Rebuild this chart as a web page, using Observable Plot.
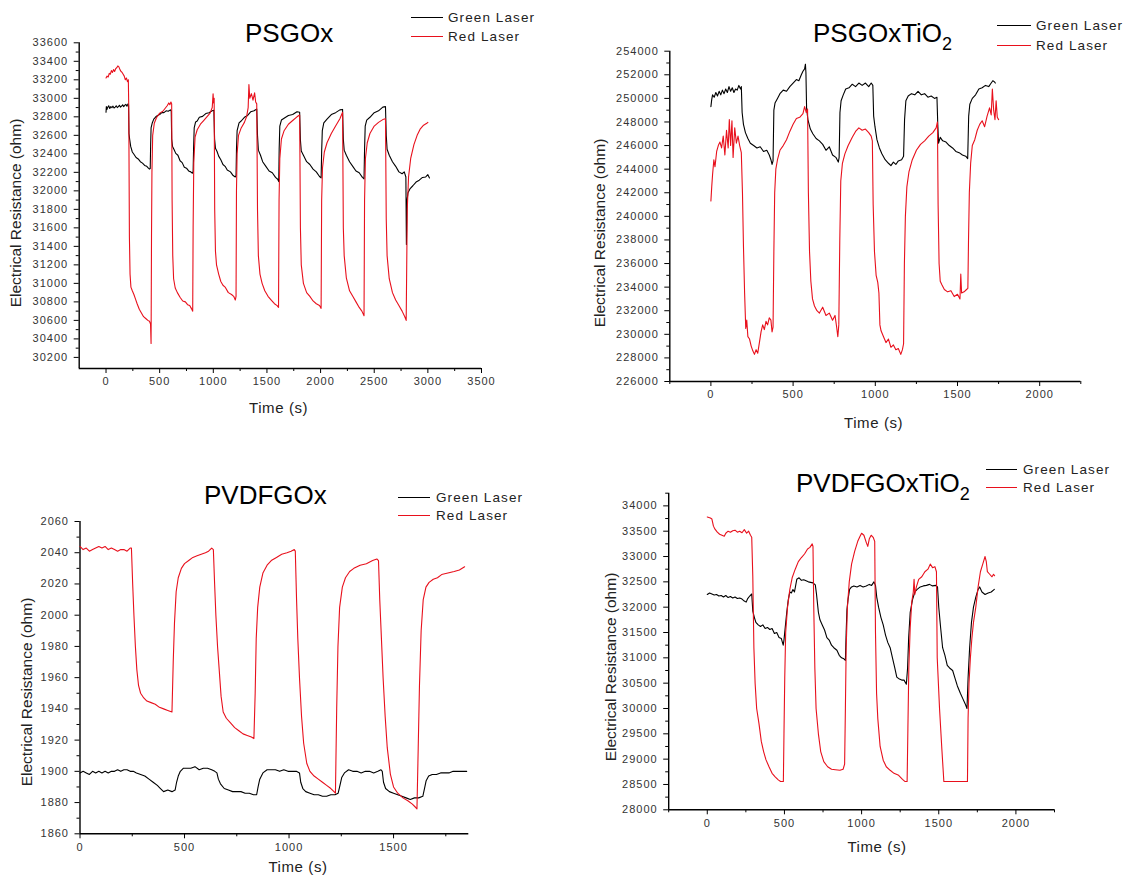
<!DOCTYPE html>
<html>
<head>
<meta charset="utf-8">
<script src="https://cdn.jsdelivr.net/npm/d3@7"></script>
<script src="https://cdn.jsdelivr.net/npm/@observablehq/plot@0.6"></script>
<style>
  html, body { margin: 0; padding: 0; background: #fff; }
  #root { position: relative; width: 1143px; height: 880px; background: #fff; overflow: hidden;
          font-family: Arial, "Liberation Sans", sans-serif; }
  .t { position: absolute; white-space: nowrap; line-height: 1; }
  .ln { position: absolute; height: 1px; }
  svg { position: absolute; }
</style>
</head>
<body>
<div id="root"></div>
<script>
// ---------- labels ----------
const panelTitles = ["PSGOx", "PSGOxTiO|2", "PVDFGOx", "PVDFGOxTiO|2"];
const seriesNames = ["Green Laser", "Red Laser"];
const yAxisLabel = "Electrical Resistance (ohm)";
const xAxisLabel = "Time (s)";

// ---------- tick values ----------
const p1XTicks = [0, 500, 1000, 1500, 2000, 2500, 3000, 3500];
const p1YTicks = [30200, 30400, 30600, 30800, 31000, 31200, 31400, 31600, 31800, 32000, 32200, 32400, 32600, 32800, 33000, 33200, 33400, 33600];
const p2XTicks = [0, 500, 1000, 1500, 2000];
const p2YTicks = [226000, 228000, 230000, 232000, 234000, 236000, 238000, 240000, 242000, 244000, 246000, 248000, 250000, 252000, 254000];
const p3XTicks = [0, 500, 1000, 1500];
const p3YTicks = [1860, 1880, 1900, 1920, 1940, 1960, 1980, 2000, 2020, 2040, 2060];
const p4XTicks = [0, 500, 1000, 1500, 2000];
const p4YTicks = [28000, 28500, 29000, 29500, 30000, 30500, 31000, 31500, 32000, 32500, 33000, 33500, 34000];

// ---------- data: [time (s), resistance (ohm)] ----------
const psgoxGreen = [[0,32850],[3,32910],[8,32880],[15,32900],[25,32920],[35,32890],[45,32910],[55,32900],[65,32915],[75,32895],[85,32905],[95,32920],[105,32900],[115,32910],[125,32925],[135,32905],[145,32915],[155,32930],[165,32910],[175,32925],[185,32935],[195,32915],[205,32940],[210,32930],
[214,32620],[220,32560],[230,32480],[245,32420],[260,32395],[280,32360],[300,32345],[320,32315],[340,32300],[360,32275],[380,32265],[395,32245],[405,32235],[412,32240],
[416,32500],[420,32680],[430,32730],[445,32775],[460,32795],[480,32815],[500,32825],[520,32845],[540,32845],[560,32865],[580,32860],[600,32875],[608,32860],
[612,32560],[620,32480],[635,32445],[650,32405],[670,32385],[690,32325],[710,32305],[730,32255],[750,32245],[770,32215],[790,32205],[805,32190],[812,32210],
[816,32450],[822,32680],[835,32745],[850,32755],[870,32795],[900,32805],[930,32835],[960,32845],[990,32865],[1005,32870],
[1012,32560],[1020,32460],[1035,32425],[1050,32375],[1070,32335],[1090,32285],[1110,32265],[1130,32225],[1160,32205],[1185,32165],[1205,32150],[1212,32165],
[1216,32450],[1222,32650],[1240,32735],[1260,32755],[1290,32795],[1320,32815],[1350,32855],[1380,32865],[1405,32885],
[1412,32600],[1420,32440],[1440,32385],[1460,32315],[1490,32265],[1520,32215],[1550,32195],[1580,32145],[1600,32125],[1610,32100],
[1614,32450],[1620,32700],[1635,32765],[1660,32785],[1700,32815],[1740,32825],[1780,32855],[1805,32850],
[1812,32550],[1820,32430],[1840,32385],[1870,32315],[1900,32285],[1930,32235],[1960,32205],[1990,32155],[2005,32140],
[2010,32420],[2016,32650],[2030,32735],[2060,32775],[2100,32825],[2140,32845],[2180,32875],[2205,32880],
[2212,32560],[2220,32440],[2240,32385],[2270,32315],[2300,32265],[2330,32215],[2360,32195],[2390,32145],[2405,32130],
[2410,32450],[2416,32700],[2430,32765],[2460,32795],[2500,32845],[2540,32865],[2580,32905],[2605,32910],
[2612,32600],[2620,32450],[2640,32385],[2670,32315],[2700,32265],[2730,32205],[2760,32185],[2780,32205],[2795,32150],
[2800,31420],[2806,31900],[2815,31980],[2835,32025],[2860,32055],[2890,32095],[2920,32115],[2950,32145],[2980,32150],[3000,32175],[3015,32140]];

const psgoxRed = [[0,33220],[10,33240],[20,33230],[30,33270],[40,33260],[50,33300],[60,33280],[70,33310],[80,33290],[90,33320],[100,33330],[110,33350],[120,33340],[130,33310],[140,33290],[150,33280],[160,33260],[170,33240],[180,33200],[190,33220],[200,33180],[208,33200],[212,32900],
[218,31500],[224,31100],[232,30960],[245,30920],[260,30880],[275,30830],[290,30780],[310,30720],[330,30680],[350,30640],[370,30620],[390,30600],[405,30590],[415,30560],[420,30350],
[424,31500],[428,32200],[435,32600],[450,32730],[470,32790],[500,32840],[530,32860],[550,32890],[570,32920],[585,32950],[595,32930],[605,32960],[612,32940],
[616,31900],[622,31300],[630,31050],[645,30950],[665,30900],[690,30850],[715,30810],[740,30800],[760,30770],[780,30760],[795,30730],[808,30700],
[812,31600],[818,32300],[830,32580],[850,32660],[880,32720],[910,32760],[940,32800],[970,32840],[990,32900],[998,33050],[1003,32950],[1008,33000],
[1013,31800],[1020,31350],[1030,31200],[1050,31100],[1070,31020],[1090,30980],[1110,30960],[1140,30900],[1170,30880],[1190,30860],[1205,30820],[1212,30860],
[1216,32000],[1222,32400],[1235,32600],[1260,32680],[1290,32740],[1310,32800],[1325,32900],[1332,33150],[1340,33000],[1355,33050],[1370,32980],[1385,33060],[1395,32960],[1405,32940],
[1412,31800],[1420,31300],[1435,31100],[1455,31000],[1480,30920],[1510,30860],[1540,30820],[1570,30780],[1595,30760],[1608,30740],
[1613,31900],[1620,32350],[1635,32560],[1660,32650],[1700,32720],[1740,32760],[1780,32800],[1805,32820],
[1812,31600],[1820,31200],[1840,31000],[1870,30900],[1900,30860],[1930,30810],[1960,30780],[1990,30760],[2005,30730],
[2010,31900],[2018,32250],[2035,32420],[2060,32520],[2100,32620],[2140,32700],[2180,32780],[2205,32850],
[2212,31600],[2220,31300],[2240,31060],[2270,30920],[2300,30860],[2330,30800],[2360,30740],[2385,30700],[2405,30650],
[2410,31900],[2418,32350],[2435,32520],[2460,32620],[2500,32700],[2540,32740],[2580,32770],[2605,32780],
[2612,31700],[2620,31300],[2640,31050],[2670,30900],[2700,30820],[2730,30760],[2760,30700],[2785,30640],[2798,30600],
[2803,31200],[2808,31800],[2820,32150],[2840,32350],[2870,32500],[2900,32600],[2930,32670],[2960,32710],[2990,32730],[3000,32740]];

const psgoxtioGreen = [[0,249300],[5,249900],[10,250300],[20,250100],[30,250500],[40,250200],[50,250600],[60,250300],[70,250700],[80,250400],[90,250800],[100,250500],[110,251000],[120,250600],[130,250900],[140,250500],[150,250800],[160,250700],[170,251100],[180,250800],[185,251000],
[190,248800],[198,247800],[210,247100],[225,246600],[240,246200],[260,246000],[280,245800],[300,245900],[320,245500],[340,245600],[355,245200],[365,244800],[372,244400],[378,244700],
[383,249000],[390,249600],[405,250000],[420,250400],[440,250700],[460,250600],[480,251000],[500,251300],[520,251600],[535,251500],[550,252000],[560,252300],[570,252500],[575,252900],[578,252200],
[582,249200],[590,248200],[605,247400],[620,247000],[640,246600],[660,246400],[680,246100],[700,245600],[720,245900],[740,245200],[760,245000],[775,244600],[780,245000],
[785,248800],[792,249800],[805,250300],[820,250800],[840,250900],[860,251200],[880,251000],[900,251300],[920,251100],[940,251300],[960,251000],[975,251300],[985,251100],
[990,248500],[998,247600],[1010,246500],[1025,245800],[1040,245300],[1060,244800],[1080,244500],[1095,244300],[1110,244600],[1125,244400],[1140,244700],[1160,244800],[1172,245100],
[1178,248200],[1186,249800],[1200,250200],[1220,250400],[1240,250300],[1260,250600],[1280,250300],[1300,250400],[1320,250100],[1340,250200],[1360,250000],[1375,250100],
[1380,247800],[1385,246200],[1395,246700],[1410,246400],[1430,246300],[1450,246000],[1470,245800],[1490,245500],[1510,245400],[1530,245200],[1550,245100],[1562,244900],
[1568,248500],[1575,249500],[1590,250000],[1610,250300],[1630,250800],[1650,250900],[1670,251100],[1690,251000],[1705,251300],[1715,251500],[1725,251400],[1730,251300]];

const psgoxtioRed = [[0,241300],[5,242500],[10,243500],[18,244800],[25,244200],[35,245500],[45,246000],[55,246300],[65,245800],[75,246800],[85,245200],[95,247300],[105,245800],[112,248200],[120,246000],[128,248100],[135,245000],[145,247500],[155,246200],[165,246800],[175,246000],[185,245400],
[192,242000],[198,237500],[205,233500],[212,230500],[218,231200],[225,229800],[235,229600],[245,229000],[255,228600],[265,228300],[275,228700],[285,228400],[295,229300],[305,230200],[315,230800],[325,230400],[335,231100],[345,230800],[355,231400],[365,231200],[372,230200],[378,230600],
[383,237000],[388,242000],[395,244000],[405,244800],[420,245600],[440,246000],[460,246500],[480,247200],[500,247800],[520,248300],[540,248400],[560,248700],[570,249300],[580,248800],[588,249100],
[593,242000],[600,237000],[608,234500],[618,233000],[630,232400],[645,232000],[660,231800],[680,232300],[700,231600],[720,231800],[740,231200],[755,231600],[765,230600],[772,229800],[778,230800],
[784,238000],[790,243000],[800,244500],[815,245300],[835,246000],[860,246700],[880,247200],[900,247500],[920,247300],[940,247400],[960,247100],[975,246800],[982,246400],
[987,241000],[995,237000],[1005,235000],[1015,234400],[1022,233500],[1028,230800],[1035,230300],[1050,229800],[1065,229300],[1080,229600],[1095,228900],[1110,229100],[1125,228700],[1140,228800],[1155,228300],[1165,228700],[1172,229200],
[1177,236000],[1183,240000],[1192,242500],[1205,243800],[1225,244800],[1250,245600],[1275,246100],[1300,246400],[1325,246800],[1350,247100],[1370,247500],[1378,248000],
[1382,241000],[1388,236000],[1395,234500],[1405,234200],[1420,233800],[1440,233600],[1460,233700],[1480,233200],[1500,233400],[1515,233000],[1520,235100],[1525,233500],[1540,233600],[1555,233800],[1563,233900],
[1567,238000],[1572,242000],[1580,244500],[1590,246000],[1605,246500],[1620,247300],[1635,247800],[1650,248100],[1665,247600],[1680,248500],[1695,249200],[1705,248600],[1712,250800],[1720,249000],[1728,248200],[1735,249800],[1742,248400],[1750,248200]];

const pvdfRed = [[0,2044],[15,2042],[30,2043],[45,2041],[60,2042],[75,2043],[90,2044],[105,2043],[120,2044],[135,2042],[150,2043],[165,2042],[180,2041],[195,2042],[210,2042],[225,2041],[240,2043],[246,2043],
[252,2020],[258,2000],[265,1980],[272,1965],[280,1955],[290,1950],[305,1947],[320,1945],[340,1944],[360,1943],[380,1941],[400,1940],[420,1939],[440,1938],
[446,1970],[452,1995],[460,2015],[470,2024],[485,2030],[500,2033],[520,2035],[540,2037],[560,2038],[580,2039],[600,2040],[615,2041],[630,2043],[638,2042],
[644,2020],[650,2000],[658,1980],[666,1965],[675,1948],[685,1938],[700,1934],[720,1931],[740,1928],[760,1926],[780,1924],[800,1923],[820,1922],[832,1921],
[838,1950],[843,1985],[850,2005],[860,2018],[875,2027],[895,2032],[915,2035],[940,2037],[965,2039],[990,2040],[1010,2041],[1025,2042],[1030,2041],
[1036,2010],[1042,1985],[1050,1960],[1060,1935],[1070,1918],[1085,1905],[1100,1900],[1120,1897],[1140,1895],[1160,1893],[1180,1891],[1200,1889],[1215,1887],[1222,1886],
[1228,1940],[1234,1980],[1242,2005],[1255,2018],[1270,2024],[1290,2028],[1310,2030],[1340,2032],[1370,2033],[1400,2035],[1420,2036],[1428,2035],
[1434,2010],[1442,1985],[1450,1960],[1460,1935],[1470,1915],[1485,1898],[1500,1890],[1520,1886],[1545,1883],[1570,1881],[1590,1879],[1605,1877],[1612,1876],
[1618,1915],[1624,1955],[1632,1990],[1642,2010],[1655,2018],[1670,2021],[1690,2023],[1710,2024],[1730,2026],[1760,2027],[1790,2028],[1815,2029],[1840,2031]];

const pvdfGreen = [[0,1899],[15,1900],[30,1899],[45,1898],[60,1900],[75,1899],[90,1900],[105,1899],[120,1900],[135,1899],[150,1900],[165,1900],[180,1901],[195,1900],[210,1901],[225,1901],[240,1900],[255,1900],[270,1899],[290,1898],[310,1897],[330,1895],[350,1893],[370,1891],[385,1889],[400,1887],[420,1888],[440,1887],[455,1888],
[462,1893],[470,1897],[480,1900],[495,1902],[510,1902],[530,1902],[550,1903],[570,1901],[590,1902],[610,1902],[630,1901],[645,1900],[655,1899],
[662,1895],[672,1892],[690,1889],[710,1888],[730,1887],[750,1887],[770,1887],[790,1886],[810,1886],[830,1885],[845,1885],
[852,1890],[860,1895],[875,1899],[895,1901],[915,1901],[935,1901],[955,1900],[975,1901],[995,1900],[1015,1900],[1035,1900],[1050,1899],
[1056,1893],[1066,1889],[1080,1887],[1100,1886],[1120,1885],[1140,1885],[1160,1884],[1180,1884],[1200,1885],[1220,1885],[1235,1886],
[1242,1890],[1252,1896],[1265,1899],[1285,1901],[1305,1900],[1325,1900],[1345,1899],[1365,1900],[1385,1900],[1405,1899],[1425,1900],[1440,1901],[1446,1900],
[1452,1893],[1462,1889],[1480,1887],[1500,1886],[1520,1885],[1540,1884],[1560,1883],[1580,1882],[1600,1883],[1620,1883],[1640,1884],
[1648,1889],[1656,1894],[1668,1897],[1685,1898],[1705,1898],[1725,1899],[1745,1899],[1765,1899],[1785,1900],[1805,1900],[1825,1900],[1850,1900]];

const pvdftioRed = [[0,33780],[10,33770],[20,33760],[30,33740],[40,33600],[50,33540],[65,33480],[80,33440],[95,33420],[110,33400],[120,33460],[135,33500],[150,33480],[165,33510],[180,33520],[195,33480],[210,33500],[225,33470],[240,33530],[255,33460],[268,33500],[280,33420],[288,33380],
[295,32600],[302,31200],[310,30500],[320,30000],[335,29700],[350,29350],[365,29150],[380,28990],[400,28850],[420,28720],[440,28650],[460,28590],[475,28560],[493,28560],
[497,29500],[502,30600],[508,31500],[520,32000],[535,32350],[550,32580],[570,32750],[590,32900],[610,32980],[630,33050],[650,33150],[665,33180],[680,33250],[685,33200],
[690,32000],[697,30800],[705,30000],[720,29500],[735,29150],[755,28950],[780,28850],[805,28800],[830,28790],[860,28780],[880,28800],[890,28900],
[895,30000],[900,31200],[908,32000],[920,32500],[935,32850],[955,33100],[975,33300],[990,33400],[1000,33460],[1015,33420],[1030,33280],[1040,33200],[1050,33350],[1062,33420],[1075,33380],[1085,33300],
[1090,31500],[1097,30300],[1105,29800],[1120,29250],[1140,28980],[1160,28850],[1185,28780],[1210,28720],[1240,28680],[1265,28600],[1280,28560],[1295,28560],
[1300,29600],[1306,30800],[1315,31600],[1325,32100],[1335,32300],[1340,32550],[1345,32250],[1355,32400],[1370,32550],[1390,32600],[1410,32700],[1430,32750],[1445,32850],[1460,32780],[1475,32800],[1485,32700],
[1490,31000],[1505,30000],[1520,29200],[1533,28560],[1600,28560],[1686,28560],
[1690,29800],[1696,30500],[1705,31000],[1715,31400],[1725,31700],[1740,32000],[1755,32400],[1770,32700],[1785,32850],[1800,33000],[1808,32900],[1815,32700],[1830,32650],[1845,32600],[1855,32650],[1862,32620]];

const pvdftioGreen = [[0,32250],[15,32280],[30,32260],[45,32240],[60,32250],[75,32220],[90,32230],[105,32200],[120,32230],[135,32190],[150,32210],[165,32180],[180,32200],[195,32170],[210,32180],[225,32160],[240,32120],[252,32100],[262,32170],[275,32220],[288,32260],
[295,31920],[305,31800],[315,31700],[330,31650],[345,31620],[360,31650],[375,31580],[390,31600],[405,31560],[420,31580],[435,31480],[450,31500],[465,31400],[480,31380],[492,31250],
[497,31350],[505,31600],[515,31900],[525,32150],[535,32300],[545,32280],[555,32350],[565,32300],[580,32550],[595,32580],[610,32530],[625,32540],[640,32520],[655,32500],[670,32490],[685,32480],[700,32440],
[708,32250],[720,31900],[730,31750],[745,31650],[760,31550],[775,31400],[790,31350],[805,31250],[820,31200],[840,31150],[855,31050],[870,31000],[885,30980],[895,30950],
[900,31500],[905,31950],[912,32150],[922,32350],[935,32400],[950,32420],[970,32400],[990,32430],[1010,32400],[1030,32420],[1050,32450],[1065,32430],[1080,32500],[1090,32430],
[1098,32200],[1110,32000],[1125,31800],[1140,31650],[1155,31450],[1170,31300],[1185,31200],[1200,31000],[1215,30800],[1228,30620],[1245,30580],[1260,30560],[1275,30560],[1290,30480],
[1298,30800],[1305,31400],[1315,31900],[1330,32150],[1345,32300],[1360,32350],[1380,32400],[1400,32420],[1420,32430],[1440,32450],[1460,32420],[1480,32430],[1492,32400],
[1500,32000],[1512,31600],[1525,31200],[1540,31050],[1555,30850],[1570,30800],[1590,30750],[1605,30600],[1620,30450],[1640,30300],[1655,30200],[1670,30100],[1683,30000],
[1690,30600],[1700,31200],[1712,31700],[1725,32000],[1740,32200],[1755,32350],[1765,32400],[1780,32300],[1800,32250],[1820,32280],[1840,32300],[1860,32350]];

// ---------- styles ----------
const GREEN_COLOR = "#000000";
const RED_COLOR = "#e8101c";
const FONT = "Arial, 'Liberation Sans', sans-serif";

const root = document.getElementById("root");

function mids(ticks) {
  const out = [];
  for (let i = 0; i < ticks.length - 1; i++) out.push((ticks[i] + ticks[i + 1]) / 2);
  return out;
}

function addText(html, x, y, css, anchor) {
  const d = document.createElement("div");
  d.className = "t";
  d.innerHTML = html;
  d.style.left = x + "px";
  d.style.top = y + "px";
  d.style.transform = anchor || "translate(0,-50%)";
  Object.assign(d.style, css || {});
  root.appendChild(d);
  return d;
}

function titleHTML(s) {
  const [main, sub] = s.split("|");
  return sub ? `${main}<span style="font-size:18px;position:relative;top:8px;">${sub}</span>` : main;
}

function panel(cfg) {
  const {left, top, width, height, mL, mR, mT, mB, xDom, yDom, xTicks, xMinor, yTicks, yMinor, green, red} = cfg;
  const svg = Plot.plot({
    width, height,
    marginLeft: mL, marginRight: mR, marginTop: mT, marginBottom: mB,
    style: {fontFamily: FONT, fontSize: "11px", color: "#333", background: "transparent", letterSpacing: "1px", overflow: "visible"},
    x: {domain: xDom, label: null},
    y: {domain: yDom, label: null},
    marks: [
      Plot.axisX({ticks: xTicks, tickSize: 5, tickPadding: 4, tickFormat: d => String(d), label: null, stroke: "#000", fill: "#333"}),
      Plot.axisX({ticks: xMinor, tickSize: 3, tickFormat: () => "", label: null, stroke: "#000"}),
      Plot.axisY({ticks: yTicks, tickSize: 5, tickPadding: 6, tickFormat: d => String(d), label: null, stroke: "#000", fill: "#333"}),
      Plot.axisY({ticks: yMinor, tickSize: 3, tickFormat: () => "", label: null, stroke: "#000"}),
      Plot.ruleX([xDom[0]], {stroke: "#000", strokeWidth: 1.4}),
      Plot.ruleY([yDom[0]], {stroke: "#000", strokeWidth: 1.4}),
      Plot.line(green, {x: d => d[0], y: d => d[1], stroke: GREEN_COLOR, strokeWidth: 1.1}),
      Plot.line(red, {x: d => d[0], y: d => d[1], stroke: RED_COLOR, strokeWidth: 1.1})
    ]
  });
  svg.style.left = left + "px";
  svg.style.top = top + "px";
  root.appendChild(svg);
}

// Panel 1: PSGOx
panel({left: 0, top: 0, width: 571, height: 440, mL: 78.7, mR: 90, mT: 42.3, mB: 72,
  xDom: [-250, 3500], yDom: [30080, 33600], xTicks: p1XTicks, xMinor: mids(p1XTicks),
  yTicks: p1YTicks, yMinor: mids(p1YTicks), green: psgoxGreen, red: psgoxRed});
// Panel 2: PSGOxTiO2
panel({left: 571, top: 0, width: 572, height: 440, mL: 98.3, mR: 62.7, mT: 50.7, mB: 59,
  xDom: [-250, 2250], yDom: [226000, 254000], xTicks: p2XTicks, xMinor: [-250, ...mids(p2XTicks), 2250],
  yTicks: p2YTicks, yMinor: mids(p2YTicks), green: psgoxtioGreen, red: psgoxtioRed});
// Panel 3: PVDFGOx
panel({left: 0, top: 440, width: 571, height: 440, mL: 79.5, mR: 102.7, mT: 81, mB: 46.7,
  xDom: [0, 1860], yDom: [1860, 2060], xTicks: p3XTicks, xMinor: [...mids(p3XTicks), 1750],
  yTicks: p3YTicks, yMinor: mids(p3YTicks), green: pvdfGreen, red: pvdfRed});
// Panel 4: PVDFGOxTiO2
panel({left: 571, top: 440, width: 572, height: 440, mL: 97.2, mR: 89, mT: 52.7, mB: 70.7,
  xDom: [-250, 2250], yDom: [28000, 34250], xTicks: p4XTicks, xMinor: [-250, ...mids(p4XTicks), 2250],
  yTicks: p4YTicks, yMinor: [...mids(p4YTicks), 34250], green: pvdftioGreen, red: pvdftioRed});

// ---------- titles, legends, axis labels ----------
const titleCss = {fontSize: "26px", color: "#000"};
const titlePos = [[245, 33], [813, 33], [204, 495], [796, 483]];
panelTitles.forEach((t, i) => addText(titleHTML(t), titlePos[i][0], titlePos[i][1], titleCss));

const legendPos = [ // [lineX1, lineX2, textX, yGreen, yRed]
  [411, 443, 448, 18, 37],
  [997, 1031, 1036, 26, 46],
  [398, 430, 436, 498, 516],
  [986, 1017, 1023, 470, 488]
];
const seriesColors = [GREEN_COLOR, RED_COLOR];
legendPos.forEach(([x1, x2, tx, yg, yr]) => {
  [yg, yr].forEach((y, k) => {
    const l = document.createElement("div");
    l.className = "ln";
    l.style.left = x1 + "px";
    l.style.width = (x2 - x1) + "px";
    l.style.top = (y - 1) + "px";
    l.style.background = seriesColors[k];
    root.appendChild(l);
    addText(seriesNames[k], tx, y, {fontSize: "13.5px", letterSpacing: "1.1px", color: "#222"});
  });
});

const yLabPos = [[16, 213], [600.4, 233], [26.8, 692], [611, 667]];
yLabPos.forEach(([x, y]) => addText(yAxisLabel, x, y, {fontSize: "15.5px", color: "#222"}, "translate(-50%,-50%) rotate(-90deg)"));
const xLabPos = [[278.6, 406.7], [873.6, 421.7], [298, 866], [877, 846]];
xLabPos.forEach(([x, y]) => addText(xAxisLabel, x, y, {fontSize: "15px", letterSpacing: "0.6px", color: "#222"}, "translate(-50%,-50%)"));
</script>
</body>
</html>
